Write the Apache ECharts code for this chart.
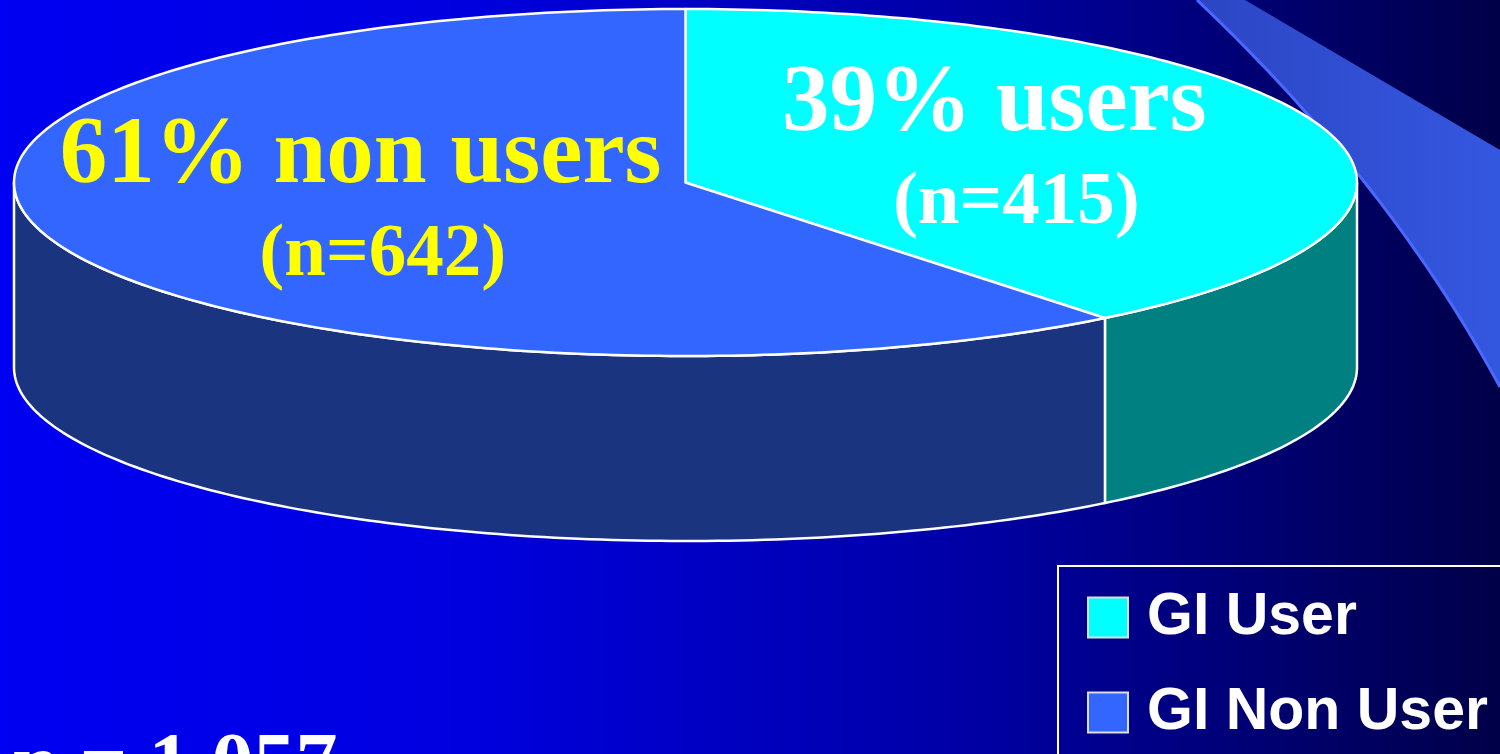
<!DOCTYPE html>
<html>
<head>
<meta charset="utf-8">
<title>GI users vs non users</title>
<script src="https://cdn.jsdelivr.net/npm/echarts@6/dist/echarts.min.js"></script>
<style>
  html, body { margin: 0; padding: 0; overflow: hidden; background: #0000c0; }
  #chart { width: 1500px; height: 754px; }
</style>
</head>
<body>
<div id="chart"></div>
<script>
// ---- data ----
const categories = ['GI User', 'GI Non User'];
const counts = [415, 642];
const sliceNames = ['users', 'non users'];

// ---- styles ----
const topColors = ['#00FFFF', '#3366FF'];
const sideColors = ['#008080', '#1B3480'];
const labelColors = ['#FFFFFF', '#FFFF00'];
const serif = '"Liberation Serif", "Times New Roman", serif';
const sans = '"Liberation Sans", Arial, sans-serif';

const total = counts.reduce((a, b) => a + b, 0);

// tilted disc: centre, radii of the top ellipse and wall height (px)
const disc = { cx: 685.5, cy: 182.5, rx: 671.5, ry: 173.5, depth: 185 };

// angle in degrees, clockwise from 12 o'clock
function pt(deg, dy) {
  const r = deg * Math.PI / 180;
  return [disc.cx + disc.rx * Math.sin(r), disc.cy - disc.ry * Math.cos(r) + (dy || 0)];
}
function arc(a0, a1, dy) {
  const n = Math.max(2, Math.ceil(Math.abs(a1 - a0)));
  const pts = [];
  for (let i = 0; i <= n; i++) pts.push(pt(a0 + (a1 - a0) * i / n, dy));
  return pts;
}

function makeRenderItem(idx) {
  return function (params, api) {
    const v = api.value(0);
    let before = 0;
    for (let k = 0; k < idx; k++) before += counts[k];
    const a0 = before / total * 360;
    const a1 = (before + v) / total * 360;
    const children = [];
    const edge = { stroke: '#FFFFFF', lineWidth: 2.5, lineJoin: 'round' };

    // front wall (only the part facing the viewer: 90..270 deg)
    const s0 = Math.max(a0, 90), s1 = Math.min(a1, 270);
    if (s1 > s0) {
      const wall = arc(s0, s1, 0).concat(arc(s1, s0, disc.depth));
      children.push({
        type: 'polygon', z2: 1,
        shape: { points: wall },
        style: Object.assign({ fill: sideColors[idx] }, edge)
      });
    }
    // top face
    children.push({
      type: 'polygon', z2: 2,
      shape: { points: [[disc.cx, disc.cy]].concat(arc(a0, a1, 0)) },
      style: Object.assign({ fill: topColors[idx] }, edge)
    });

    // label near the middle of the slice
    const mid = (a0 + a1) / 2 * Math.PI / 180;
    const lx = disc.cx + 0.5 * disc.rx * Math.sin(mid);
    const ly = disc.cy - 0.45 * disc.ry * Math.cos(mid);
    const pct = Math.round(v / total * 100);
    children.push({
      type: 'text', z2: 10, x: lx - 8, y: ly - 51,
      style: {
        text: pct + '% ' + sliceNames[idx], fill: labelColors[idx],
        font: 'bold 95px ' + serif, align: 'center', verticalAlign: 'middle'
      }
    });
    children.push({
      type: 'text', z2: 10, x: lx + 14, y: ly + 47,
      style: {
        text: '(n=' + v + ')', fill: labelColors[idx],
        font: 'bold 75px ' + serif, align: 'center', verticalAlign: 'middle'
      }
    });
    return { type: 'group', children: children };
  };
}

// decorative swoosh in the upper right corner
function quad(p0, c, p1, n) {
  const pts = [];
  for (let i = 0; i <= n; i++) {
    const t = i / n, u = 1 - t;
    pts.push([u * u * p0[0] + 2 * u * t * c[0] + t * t * p1[0], u * u * p0[1] + 2 * u * t * c[1] + t * t * p1[1]]);
  }
  return pts;
}
const swooshEdge = quad([1197, 0], [1390, 183], [1500, 387], 60);
const swooshBand = swooshEdge.concat([[1500, 150], [1245, 0]]);

const chart = echarts.init(document.getElementById('chart'), null, { renderer: 'canvas' });
chart.setOption({
  animation: false,
  graphic: [
    {
      type: 'rect', z: -10, silent: true,
      shape: { x: 0, y: 0, width: 1500, height: 754 },
      style: {
        fill: {
          type: 'linear', x: 0, y: 0, x2: 1, y2: 0,
          colorStops: [
            { offset: 0, color: '#0000F2' },
            { offset: 0.3, color: '#0000E0' },
            { offset: 0.63, color: '#0000A8' },
            { offset: 0.91, color: '#000060' },
            { offset: 1, color: '#000048' }
          ]
        }
      }
    },
    {
      type: 'polygon', z: -5, silent: true,
      shape: { points: swooshBand },
      style: {
        fill: {
          type: 'linear', x: 0, y: 0, x2: 1, y2: 0,
          colorStops: [
            { offset: 0, color: '#2C46C4' },
            { offset: 1, color: '#3457E0' }
          ]
        }
      }
    },
    {
      type: 'polyline', z: -4, silent: true,
      shape: { points: swooshEdge },
      style: { stroke: '#4A68FF', lineWidth: 3, fill: null }
    },
    {
      type: 'text', z: 5, x: 12, y: 769,
      style: {
        text: 'n = ' + total.toLocaleString('en-US'), fill: '#FFFFFF',
        font: 'bold 84px ' + serif, align: 'left', verticalAlign: 'middle'
      }
    }
  ],
  legend: {
    data: categories,
    orient: 'vertical',
    left: 1058, top: 566, height: 300,
    icon: 'rect',
    itemWidth: 40, itemHeight: 40, itemGap: 34,
    padding: [21, 40, 60, 29],
    borderColor: '#FFFFFF', borderWidth: 2, borderRadius: 0,
    selectedMode: false,
    itemStyle: { borderColor: '#DDDDDD', borderWidth: 2 },
    textStyle: {
      color: '#FFFFFF', fontFamily: sans, fontWeight: 'bold',
      fontSize: 59, lineHeight: 56, padding: [5, 0, 0, 14]
    }
  },
  series: categories.map((name, i) => ({
    type: 'custom',
    name: name,
    coordinateSystem: 'none',
    silent: true,
    itemStyle: { color: topColors[i] },
    renderItem: makeRenderItem(i),
    data: [[counts[i]]]
  }))
});
</script>
</body>
</html>
